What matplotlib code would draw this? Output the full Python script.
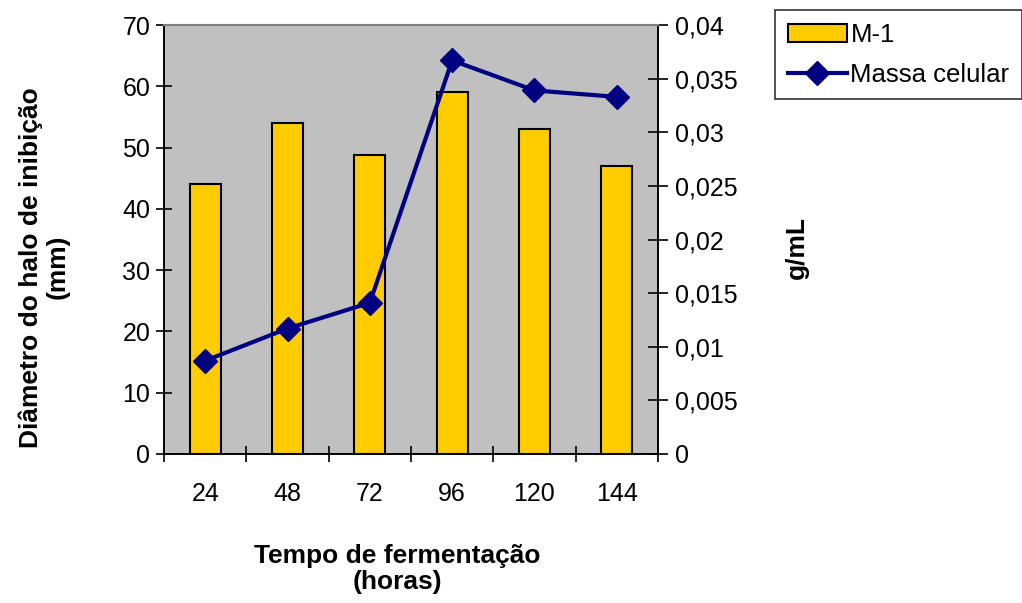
import matplotlib.pyplot as plt
import numpy as np

plt.rcParams['font.family'] = ['Liberation Sans', 'DejaVu Sans']

horas = ['24', '48', '72', '96', '120', '144']
halo_m1 = [44, 54, 48.8, 59, 53, 47]
massa_celular = [0.0087, 0.0117, 0.0141, 0.0367, 0.0339, 0.0333]

fig = plt.figure(figsize=(10.22, 6.03), dpi=100)
ax = fig.add_axes([0.1605, 0.2471, 0.4833, 0.7114])
ax.set_facecolor('#C0C0C0')

x = np.arange(len(horas))
bars = ax.bar(x, halo_m1, width=0.38, color='#FFCC00', edgecolor='black',
              linewidth=1.5, zorder=2, label='M-1')
ax.set_xlim(-0.5, len(horas) - 0.5)
ax.set_ylim(0, 70)
ax.set_yticks(range(0, 71, 10))
ax.set_xticks(x)
ax.set_xticklabels(horas)
ax.set_xticks(np.arange(-0.5, len(horas), 1), minor=True)
ax.tick_params(axis='x', which='major', length=0, pad=20, labelsize=18)
ax.tick_params(axis='x', which='minor', direction='inout', length=12, width=1.2)
ax.tick_params(axis='y', direction='inout', length=12, width=1.2, labelsize=18, pad=4)

ax2 = ax.twinx()
line, = ax2.plot(x, massa_celular, color='#000080', linewidth=3, marker='D',
                 markersize=12, zorder=3, label='Massa celular')
ax2.set_ylim(0, 0.04)
yt = np.arange(0, 0.0401, 0.005)
ax2.set_yticks(yt)
ax2.set_yticklabels(['0'] + [('%g' % v).replace('.', ',') for v in yt[1:]])
ax2.tick_params(axis='y', direction='inout', length=14, width=1.2, labelsize=18, pad=5)

for a in (ax, ax2):
    a.spines['top'].set_color('#808080')
    a.spines['top'].set_linewidth(1.5)
    a.spines['left'].set_linewidth(1.2)
    a.spines['right'].set_linewidth(1.2)
    a.spines['bottom'].set_linewidth(1.2)

fig.text(0.043, 0.557, 'Diâmetro do halo de inibição\n(mm)', rotation=90,
         ha='center', va='center', fontsize=19, fontweight='bold',
         multialignment='center', linespacing=1.1)
fig.text(0.780, 0.589, 'g/mL', rotation=90, ha='center', va='center',
         fontsize=19, fontweight='bold')
fig.text(0.389, 0.056, 'Tempo de fermentação\n(horas)', ha='center', va='center',
         fontsize=19, fontweight='bold', multialignment='center', linespacing=1.1)

leg = fig.legend([bars, line], ['M-1', 'Massa celular'], loc='upper left',
                 bbox_to_anchor=(0.758, 0.983), fontsize=18.5, frameon=True,
                 fancybox=False, shadow=False, handlelength=2.3, handletextpad=0.15,
                 borderpad=0.5, labelspacing=0.6, borderaxespad=0)
leg.get_frame().set_edgecolor('black')
leg.get_frame().set_linewidth(1.2)

fig.savefig('out.png', dpi=100)
